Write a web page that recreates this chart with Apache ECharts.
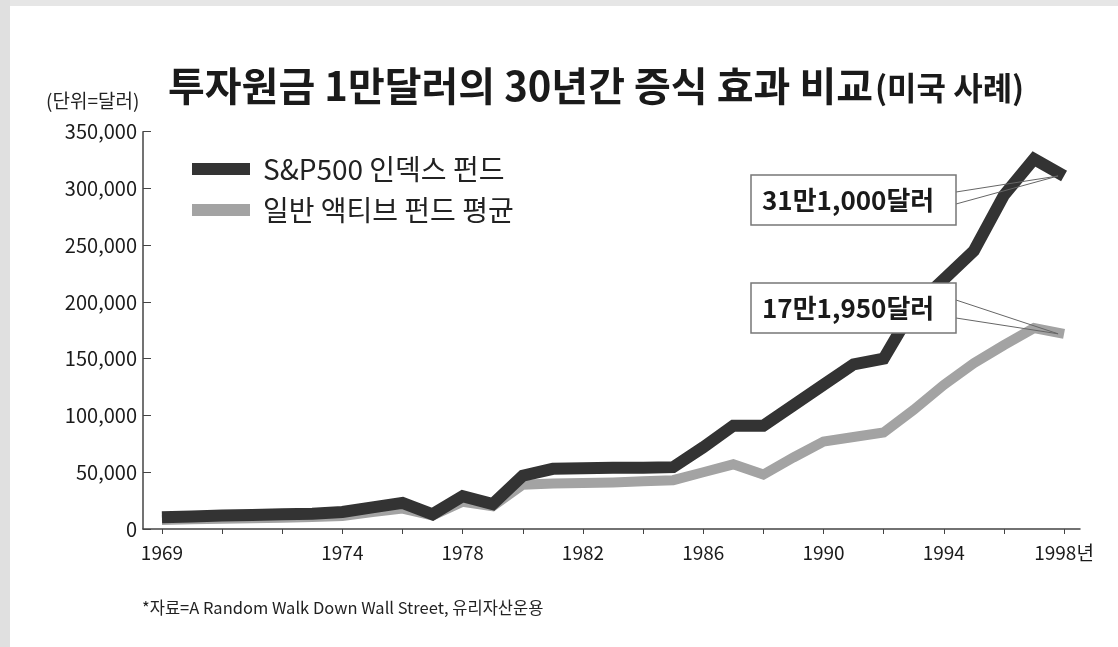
<!DOCTYPE html>
<html>
<head>
<meta charset="utf-8">
<title>투자원금 1만달러의 30년간 증식 효과 비교</title>
<script src="https://cdn.jsdelivr.net/npm/echarts@6/dist/echarts.min.js"></script>
<style>
  html, body { margin: 0; padding: 0; background: #fff; }
  #main { width: 1118px; height: 647px; }
</style>
</head>
<body>
<div id="main"></div>
<script>
// 연도 (첫 눈금은 원본처럼 '1969'로 표시)
var years = [1968, 1969, 1970, 1971, 1972, 1973, 1974, 1975, 1976, 1977,
  1978, 1979, 1980, 1981, 1982, 1983, 1984, 1985, 1986, 1987,
  1988, 1989, 1990, 1991, 1992, 1993, 1994, 1995, 1996, 1997, 1998];
// S&P500 인덱스 펀드 (달러)
var indexFund = [10300, 11000, 11800, 12400, 13000, 13500, 15000, 19000, 23000, 13000,
  29000, 22000, 47000, 53000, 53500, 54000, 54000, 54500, 72000, 91000,
  91000, 109000, 127000, 145000, 150000, 195000, 220000, 245000, 294000, 326000, 311000];
// 일반 액티브 펀드 평균 (달러)
var activeFund = [8000, 8500, 9000, 9500, 10000, 10500, 11500, 15000, 18000, 12000,
  24000, 20000, 39000, 40000, 40500, 41000, 42000, 43000, 50000, 57000,
  48000, 63000, 77000, 81000, 85000, 105000, 127000, 146000, 162000, 177000, 171950];

var xTickYears = [1968, 1970, 1972, 1974, 1976, 1978, 1980, 1982, 1984, 1986, 1988, 1990, 1992, 1994, 1996, 1998];
var xLabelYears = [1968, 1974, 1978, 1982, 1986, 1990, 1994, 1998];
var xLabelText = ['1969', '1974', '1978', '1982', '1986', '1990', '1994', '1998년'];

var seriesNames = ['S&P500 인덱스 펀드', '일반 액티브 펀드 평균'];
var noteTexts = ['31만1,000달러', '17만1,950달러'];

var cjk = "'Noto Sans CJK KR',sans-serif";

function pairs(arr) {
  return years.map(function (y, i) { return [y, arr[i]]; });
}

var chart = echarts.init(document.getElementById('main'));

var option = {
  backgroundColor: '#fff',
  animation: false,
  title: [{
    left: 163,
    top: 56,
    text: '{a|투자원금 1만달러의 30년간 증식 효과 비교}{b|(미국 사례)}',
    textStyle: {
      rich: {
        a: { fontFamily: cjk, fontSize: 40, fontWeight: 'bold', color: '#1a1a1a', lineHeight: 50 },
        b: { fontFamily: cjk, fontSize: 32, color: '#1a1a1a', lineHeight: 50, padding: [4, 0, 0, 2] }
      }
    }
  }, {
    left: 41,
    top: 86,
    text: '(단위=달러)',
    textStyle: { fontFamily: cjk, fontSize: 19, fontWeight: 'normal', color: '#222' }
  }, {
    left: 137,
    top: 594,
    text: '*자료=A Random Walk Down Wall Street, 유리자산운용',
    textStyle: { fontFamily: cjk, fontSize: 16.5, fontWeight: 'normal', color: '#222' }
  }],
  legend: {
    orient: 'vertical',
    left: 192,
    top: 155,
    padding: 0,
    icon: 'rect',
    itemWidth: 58,
    itemHeight: 12,
    itemGap: 13,
    data: seriesNames,
    textStyle: { fontFamily: cjk, fontSize: 28, color: '#222', lineHeight: 28, padding: [0, 0, 0, 8] }
  },
  grid: { left: 143, right: 38, top: 131.7, bottom: 118 },
  xAxis: {
    type: 'value',
    min: 1967.37,
    max: 1998.53,
    splitLine: { show: false },
    axisLine: { lineStyle: { color: '#444', width: 1.5 } },
    axisTick: { show: true, length: 5, customValues: xTickYears, lineStyle: { color: '#444' } },
    axisLabel: {
      customValues: xLabelYears,
      margin: 14,
      fontFamily: cjk,
      fontSize: 19,
      color: '#1a1a1a',
      formatter: function (v) {
        var k = xLabelYears.indexOf(Math.round(v));
        return k >= 0 ? xLabelText[k] : '';
      }
    }
  },
  yAxis: {
    type: 'value',
    min: 0,
    max: 350000,
    interval: 50000,
    splitLine: { show: false },
    axisLine: { show: true, lineStyle: { color: '#444', width: 1.5 } },
    axisTick: { show: true, inside: true, length: 8, lineStyle: { color: '#444' } },
    axisLabel: { margin: 6, fontFamily: cjk, fontSize: 20, color: '#1a1a1a' }
  },
  series: [{
    name: seriesNames[1],
    type: 'line',
    data: pairs(activeFund),
    symbol: 'none',
    color: '#a3a3a3',
    lineStyle: { width: 10, color: '#a3a3a3', join: 'miter' },
    z: 2
  }, {
    name: seriesNames[0],
    type: 'line',
    data: pairs(indexFund),
    symbol: 'none',
    color: '#333',
    lineStyle: { width: 12, color: '#333', join: 'miter' },
    z: 3
  }]
};

chart.setOption(option);

// 배경 띠 + 주석 상자와 지시선
var last = years.length - 1;
var tipA = chart.convertToPixel({ gridIndex: 0 }, [years[last], indexFund[last]]);
var tipB = chart.convertToPixel({ gridIndex: 0 }, [years[last], activeFund[last]]);

function noteBox(y, text) {
  return [{
    type: 'rect',
    z: 50,
    shape: { x: 751, y: y, width: 205, height: 50 },
    style: { fill: '#fff', stroke: '#777', lineWidth: 1.5 }
  }, {
    type: 'text',
    z: 51,
    x: 762,
    y: y + 25,
    style: {
      text: text,
      fontFamily: cjk,
      fontSize: 26,
      fontWeight: 'bold',
      fill: '#1a1a1a',
      verticalAlign: 'middle'
    }
  }];
}

function wedge(y1, y2, tip) {
  return [{
    type: 'line', z: 49,
    shape: { x1: 956, y1: y1, x2: tip[0] - 6, y2: tip[1] },
    style: { stroke: '#666', lineWidth: 1 }
  }, {
    type: 'line', z: 49,
    shape: { x1: 956, y1: y2, x2: tip[0] - 6, y2: tip[1] },
    style: { stroke: '#666', lineWidth: 1 }
  }];
}

chart.setOption({
  graphic: [
    { type: 'rect', z: -10, shape: { x: 0, y: 0, width: 1118, height: 6 }, style: { fill: '#e6e6e6' } },
    { type: 'rect', z: -10, shape: { x: 0, y: 0, width: 10, height: 647 }, style: { fill: '#e0e0e0' } }
  ].concat(noteBox(175, noteTexts[0]), noteBox(283, noteTexts[1]),
    wedge(192, 204, tipA), wedge(300, 318, tipB))
});
</script>
</body>
</html>
